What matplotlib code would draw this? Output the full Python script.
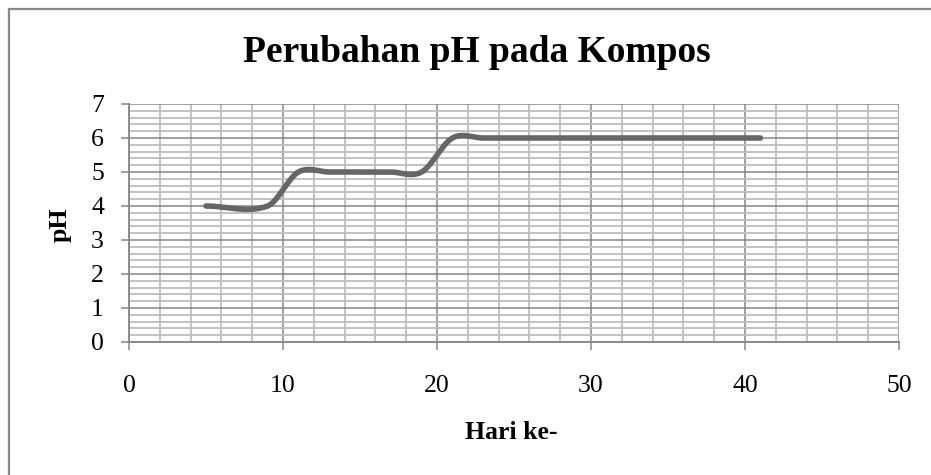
import numpy as np
import matplotlib.pyplot as plt
from matplotlib.patches import Rectangle
from matplotlib.ticker import MultipleLocator

# data (Excel smoothed line)
hari = [5, 9, 11, 13, 15, 17, 19, 21, 23, 25, 27, 29, 31, 33, 35, 37, 39, 41]
ph = [4, 4, 5, 5, 5, 5, 5, 6, 6, 6, 6, 6, 6, 6, 6, 6, 6, 6]

TITLE = "Perubahan pH pada Kompos"
XLABEL = "Hari ke-"
YLABEL = "pH"


def smooth_line(x, y, n=40):
    """Catmull-Rom style smoothing, similar to Excel 'smoothed line'."""
    x = np.asarray(x, float)
    y = np.asarray(y, float)
    m = np.zeros_like(y)
    m[1:-1] = (y[2:] - y[:-2]) / (x[2:] - x[:-2])
    xs, ys = [], []
    for i in range(len(x) - 1):
        t = np.linspace(0, 1, n)
        L = x[i + 1] - x[i]
        h00 = 2 * t**3 - 3 * t**2 + 1
        h10 = t**3 - 2 * t**2 + t
        h01 = -2 * t**3 + 3 * t**2
        h11 = t**3 - t**2
        xs.append(x[i] + t * L)
        ys.append(h00 * y[i] + h10 * L * m[i] + h01 * y[i + 1] + h11 * L * m[i + 1])
    return np.concatenate(xs), np.concatenate(ys)


plt.rcParams['font.family'] = ['Liberation Serif', 'DejaVu Serif']

fig = plt.figure(figsize=(9.31, 4.75), dpi=100)

# chart area border (runs off the right and bottom edges)
fig.patches.append(Rectangle((8.5 / 931, -0.1), 1.5, 1 - 8.5 / 475 + 0.1,
                             transform=fig.transFigure, fill=False,
                             edgecolor='#888888', linewidth=1.6))

ax = fig.add_axes([129 / 931, 1 - 342 / 475, (899 - 129) / 931, (342 - 104) / 475])

xs, ys = smooth_line(hari, ph)
ax.plot(xs, ys, color='#666666', linewidth=4.0, solid_capstyle='round', zorder=3)

ax.set_xlim(0, 50)
ax.set_ylim(0, 7)
ax.xaxis.set_major_locator(MultipleLocator(10))
ax.xaxis.set_minor_locator(MultipleLocator(2))
ax.yaxis.set_major_locator(MultipleLocator(1))
ax.yaxis.set_minor_locator(MultipleLocator(0.2))

ax.grid(which='minor', color='#bdbdbd', linewidth=1.3)
ax.grid(which='major', color='#868686', linewidth=1.1)
ax.set_axisbelow(True)

for side in ['top', 'right']:
    ax.spines[side].set_visible(False)
for side in ['left', 'bottom']:
    ax.spines[side].set_color('#868686')
    ax.spines[side].set_linewidth(1.3)

ax.tick_params(which='major', length=6, width=1.1, color='#868686', labelsize=18.5)
ax.tick_params(axis='x', which='major', pad=18)
ax.tick_params(axis='y', which='major', pad=12)
ax.tick_params(which='minor', length=0)

fig.text(477 / 931, 1 - 53 / 475, TITLE, ha='center', va='center',
         fontsize=27, fontweight='bold')
ax.set_xlabel(XLABEL, fontsize=18.5, fontweight='bold')
ax.xaxis.set_label_coords((511 - 129) / (899 - 129), -(421 - 342) / (342 - 104))
ax.set_ylabel(YLABEL, fontsize=18.5, fontweight='bold')
ax.yaxis.set_label_coords(-(129 - 72) / (899 - 129), (342 - 225) / (342 - 104))

fig.savefig('out.png', dpi=100)
